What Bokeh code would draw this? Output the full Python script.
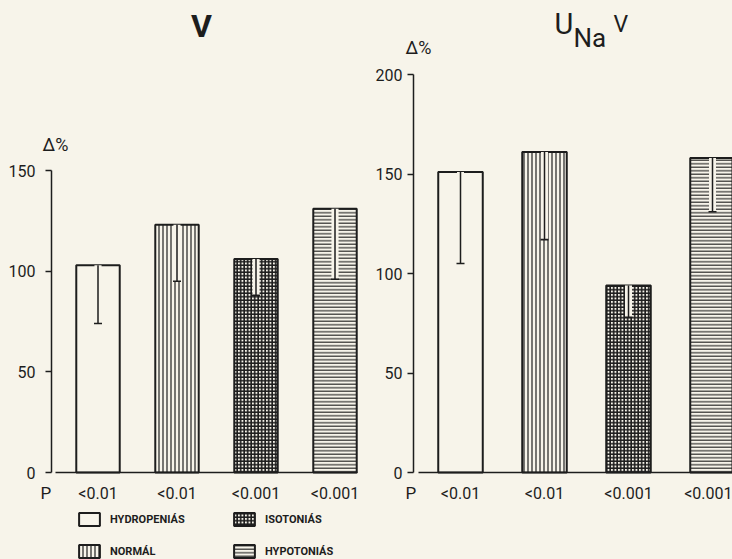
from bokeh.plotting import figure
from bokeh.models import (ColumnDataSource, CDSView, IndexFilter, Range1d,
                          FixedTicker, Label, Legend, LegendItem)
from bokeh.layouts import row
from bokeh.embed import file_html
from bokeh.resources import INLINE

# ---------------- data ----------------
categories = ["HYDROPENIÁS", "NORMÁL", "ISOTONIÁS", "HYPOTONIÁS"]
p_labels = ["<0.01", "<0.01", "<0.001", "<0.001"]
v_change = [103, 123, 106, 131]
v_err_low = [74, 95, 88, 96]
una_change = [151, 161, 94, 158]
una_err_low = [105, 117, 78, 131]
v_ticks = [0, 50, 100, 150]
una_ticks = [0, 50, 100, 150, 200]

PAPER = "#f7f4ea"
INK = "#1d1d1d"
FONT = "Roboto"
H = 559

bar_styles = [
    dict(hatch_pattern=None),
    dict(hatch_pattern="vertical_line", hatch_scale=4, hatch_weight=1.2),
    dict(hatch_pattern="cross", hatch_scale=3.5, hatch_weight=1.7),
    dict(hatch_pattern="horizontal_line", hatch_scale=3.5, hatch_weight=1.1),
]


def make_panel(values, lows, ticks, ymax, width, px_per_x, px_per_y,
               first_center_px, yaxis_px, base_left_px, base_right_px,
               zero_px, bar_w, chan_w, y_standoff):
    """Frame covers the whole figure; axes are drawn at fixed locations."""
    x_idx = list(range(len(categories)))
    src = ColumnDataSource(dict(x=x_idx, cat=categories, top=values, low=lows))
    x0 = -first_center_px / px_per_x
    x1 = x0 + width / px_per_x
    y0 = -(H - zero_px) / px_per_y
    y1 = zero_px / px_per_y
    p = figure(width=width, height=H, x_range=Range1d(x0, x1),
               y_range=Range1d(y0, y1), output_backend="svg",
               toolbar_location=None, min_border=0)
    p.background_fill_color = PAPER
    p.border_fill_color = PAPER
    p.outline_line_color = None
    p.grid.visible = False

    renderers = []
    for i in x_idx:
        r = p.vbar(x="x", top="top", bottom=0, width=bar_w, source=src,
                   view=CDSView(filter=IndexFilter([i])),
                   fill_color=PAPER, line_color=INK, line_width=2,
                   hatch_color=INK, **bar_styles[i])
        renderers.append(r)
    # error bars (drawn downward inside the bars)
    p.vbar(x="x", top="top", bottom="low", width=chan_w, source=src,
           fill_color=PAPER, line_color=None)
    p.segment(x0="x", y0="top", x1="x", y1="low", source=src,
              line_color=INK, line_width=1.5)
    p.scatter(x="x", y="low", marker="dash", size=8, source=src,
              line_color=INK, line_width=1.6)

    ya = p.yaxis[0]
    ya.fixed_location = x0 + yaxis_px / px_per_x
    ya.bounds = (0, ymax)
    ya.ticker = FixedTicker(ticks=ticks)
    ya.major_tick_out = 6
    ya.major_tick_in = 0
    ya.minor_tick_out = 0
    ya.minor_tick_in = 0
    ya.axis_line_width = 1.5
    ya.axis_line_color = INK
    ya.major_tick_line_width = 1.5
    ya.major_tick_line_color = INK
    ya.major_label_text_font = FONT
    ya.major_label_text_font_size = "16px"
    ya.major_label_text_color = INK
    ya.major_label_standoff = y_standoff

    xa = p.xaxis[0]
    xa.fixed_location = 0
    xa.bounds = (x0 + base_left_px / px_per_x, x0 + base_right_px / px_per_x)
    xa.ticker = FixedTicker(ticks=x_idx)
    xa.major_label_overrides = {i: lbl for i, lbl in enumerate(p_labels)}
    xa.major_tick_out = 0
    xa.major_tick_in = 0
    xa.minor_tick_out = 0
    xa.minor_tick_in = 0
    xa.axis_line_width = 1.5
    xa.axis_line_color = INK
    xa.major_label_text_font = FONT
    xa.major_label_text_font_size = "16px"
    xa.major_label_text_color = INK
    xa.major_label_standoff = 11
    return p, renderers


def label(p, text, x, y, size, align="left", style="normal"):
    # x: px from the panel's left edge; y: baseline px from the top edge
    px = float(size.rstrip("px"))
    p.add_layout(Label(x=x, y=H - y + 0.3 * px, x_units="screen",
                       y_units="screen", text=text, text_font=FONT,
                       text_font_size=size, text_color=INK, text_align=align,
                       text_baseline="alphabetic", text_font_style=style))


# ---- left panel: V ----
W1 = 373
p1, rends = make_panel(v_change, v_err_low, v_ticks, 150, W1, 79, 302 / 150,
                       97.5, 51, 55, 357, 472, 0.55, 0.09, 10)
label(p1, "V", 201, 35, "32px", align="center", style="bold")
label(p1, "Δ%", 42, 149, "18px")
label(p1, "P", 40, 498, "17px")

legend = Legend(items=[LegendItem(label=c, renderers=[r])
                       for c, r in zip(categories, rends)],
                location=(76, 0), ncols=2, orientation="vertical",
                glyph_width=26, glyph_height=16, label_standoff=8,
                label_width=105, spacing=16, padding=0, margin=0,
                background_fill_alpha=0, border_line_color=None,
                label_text_font=FONT, label_text_font_size="11px",
                label_text_font_style="bold", label_text_color=INK)
p1.add_layout(legend, "center")

# ---- right panel: U_Na V ----
W2 = 732 - W1
p2, _ = make_panel(una_change, una_err_low, una_ticks, 200, W2, 84, 398 / 200,
                   460 - W1, 413 - W1, 418 - W1, W2, 472, 0.53, 0.083, 5)
label(p2, "U", 554 - W1, 32, "29px")
label(p2, "Na", 573 - W1, 45, "26px")
label(p2, "V", 613 - W1, 31, "23px")
label(p2, "Δ%", 405 - W1, 52, "18px")
label(p2, "P", 405 - W1, 498, "17px")

layout = row(p1, p2, spacing=0, styles={"background-color": PAPER})
open("out.html", "w").write(file_html(layout, INLINE))
